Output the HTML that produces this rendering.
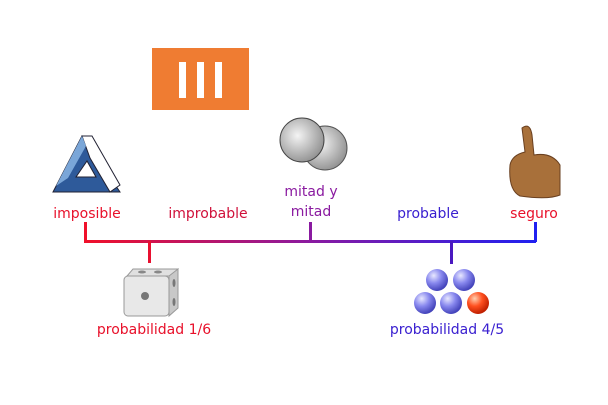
<!DOCTYPE html>
<html><head><style>body{margin:0;background:#fff}svg{display:block}text{font-family:"Comic Sans MS","DejaVu Sans",sans-serif;font-size:14px}</style></head><body>
<svg width="608" height="405" viewBox="0 0 608 405">
<defs>
<linearGradient id="g" x1="85" x2="535" gradientUnits="userSpaceOnUse"><stop offset="0" stop-color="#f0102a"/><stop offset="0.5" stop-color="#8a1aa0"/><stop offset="1" stop-color="#2020f0"/></linearGradient>
<radialGradient id="b" cx="0.35" cy="0.3" r="0.7"><stop offset="0" stop-color="#e8e8ff"/><stop offset="0.5" stop-color="#8888ee"/><stop offset="1" stop-color="#4444bb"/></radialGradient>
<radialGradient id="r" cx="0.35" cy="0.3" r="0.7"><stop offset="0" stop-color="#ffd0b0"/><stop offset="0.5" stop-color="#ff5020"/><stop offset="1" stop-color="#c02000"/></radialGradient>
<radialGradient id="c" cx="0.4" cy="0.4" r="0.7"><stop offset="0" stop-color="#f4f4f4"/><stop offset="1" stop-color="#888"/></radialGradient>
</defs>
<rect x="152" y="48" width="97" height="62" fill="#ef7c32"/>
<rect x="179" y="62" width="7" height="36" fill="#fff"/><rect x="197" y="62" width="7" height="36" fill="#fff"/><rect x="215" y="62" width="7" height="36" fill="#fff"/>
<!-- triangle -->
<polygon points="82,136 53,192 120,192" fill="#2e5a9a" stroke="#223" stroke-width="1"/>
<polygon points="82,136 92,136 120,185 110,192 90,158" fill="#fff" stroke="#223" stroke-width="1"/>
<polygon points="82,136 56,186 68,178 86,146" fill="#7aa6d8"/>
<polygon points="76,177 96,177 87,161" fill="#fff" stroke="#223" stroke-width="1"/>
<!-- coins -->
<circle cx="325" cy="148" r="22" fill="url(#c)" stroke="#555"/>
<circle cx="302" cy="140" r="22" fill="url(#c)" stroke="#444"/>
<!-- thumb -->
<path d="M522,128 Q530,122 532,135 L534,155 Q552,152 560,165 L560,195 Q548,200 520,196 Q508,190 510,165 Q512,155 525,152 Z" fill="#a8703a" stroke="#6a4020"/>
<text x="87" y="218" fill="#e8102a" text-anchor="middle">imposible</text>
<text x="208" y="218" fill="#d0103a" text-anchor="middle">improbable</text>
<text x="311" y="196" fill="#8a1aa0" text-anchor="middle">mitad y</text>
<text x="311" y="216" fill="#8a1aa0" text-anchor="middle">mitad</text>
<text x="428" y="218" fill="#3a20d0" text-anchor="middle">probable</text>
<text x="534" y="218" fill="#e8102a" text-anchor="middle">seguro</text>
<rect x="84" y="240" width="452" height="3" fill="url(#g)"/>
<rect x="84" y="222" width="3" height="20" fill="#f0102a"/>
<rect x="148" y="241" width="3" height="22" fill="#e81030"/>
<rect x="309" y="222" width="3" height="20" fill="#8a1aa0"/>
<rect x="450" y="241" width="3" height="23" fill="#4a18c0"/>
<rect x="534" y="222" width="3" height="20" fill="#2020f0"/>
<!-- die -->
<polygon points="127,276 133,269 178,269 173,276" fill="#e0e0e0" stroke="#999"/>
<ellipse cx="142" cy="272" rx="4" ry="1.5" fill="#888"/><ellipse cx="158" cy="272" rx="4" ry="1.5" fill="#888"/>
<rect x="124" y="276" width="45" height="40" rx="4" fill="#e8e8e8" stroke="#999"/>
<polygon points="169,276 178,269 178,308 169,316" fill="#c8c8c8" stroke="#999"/>
<circle cx="145" cy="296" r="4" fill="#777"/><ellipse cx="174" cy="283" rx="1.5" ry="4" fill="#777"/><ellipse cx="174" cy="302" rx="1.5" ry="4" fill="#777"/>
<text x="154" y="334" fill="#e8102a" text-anchor="middle">probabilidad 1/6</text>
<circle cx="437" cy="280" r="11" fill="url(#b)"/><circle cx="464" cy="280" r="11" fill="url(#b)"/>
<circle cx="425" cy="303" r="11" fill="url(#b)"/><circle cx="451" cy="303" r="11" fill="url(#b)"/><circle cx="478" cy="303" r="11" fill="url(#r)"/>
<text x="447" y="334" fill="#3a20d0" text-anchor="middle">probabilidad 4/5</text>
</svg></body></html>
